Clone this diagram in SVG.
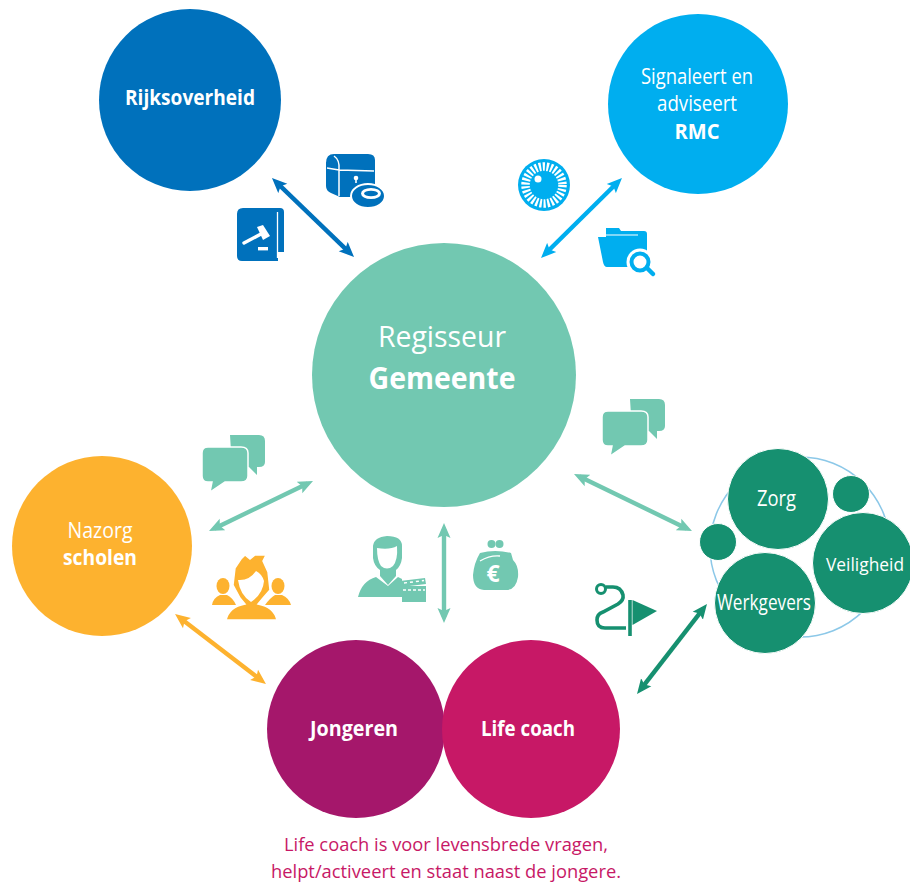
<svg xmlns="http://www.w3.org/2000/svg" xmlns:xlink="http://www.w3.org/1999/xlink" width="910" height="885" viewBox="0 0 910 885">
<style>
text{font-family:"Open Sans","Noto Sans","Liberation Sans",sans-serif;fill:#fff;text-anchor:middle;font-size:21px}
.b{font-weight:700}
.conn{fill:none;stroke-width:4.4}
</style>
<defs>
<marker id="mb" markerUnits="userSpaceOnUse" markerWidth="16" markerHeight="14" refX="9" refY="7" orient="auto-start-reverse"><path d="M0 .5L15 7L0 13.5L3 7Z" fill="#0071BC"/></marker>
<marker id="ml" markerUnits="userSpaceOnUse" markerWidth="16" markerHeight="14" refX="9" refY="7" orient="auto-start-reverse"><path d="M0 .5L15 7L0 13.5L3 7Z" fill="#00AEEF"/></marker>
<marker id="mm" markerUnits="userSpaceOnUse" markerWidth="16" markerHeight="14" refX="9" refY="7" orient="auto-start-reverse"><path d="M0 .5L15 7L0 13.5L3 7Z" fill="#72C8B1"/></marker>
<marker id="my" markerUnits="userSpaceOnUse" markerWidth="16" markerHeight="14" refX="9" refY="7" orient="auto-start-reverse"><path d="M0 .5L15 7L0 13.5L3 7Z" fill="#FDB22F"/></marker>
<marker id="mg" markerUnits="userSpaceOnUse" markerWidth="16" markerHeight="14" refX="9" refY="7" orient="auto-start-reverse"><path d="M0 .5L15 7L0 13.5L3 7Z" fill="#169070"/></marker>
<g id="bubbles">
<path d="M28 0H57Q63 0 63 6V27Q63 32 57 32H55V40L47 32H30Z" fill="#72C8B1"/>
<path d="M6 12H39Q46 12 46 18V41Q46 47 39 47H23L8 57L10 47H6Q0 47 0 41V18Q0 12 6 12Z" fill="#72C8B1" stroke="#fff" stroke-width="1.5"/>
</g>
</defs>

<g id="connectors">
<path class="conn" stroke="#0071BC" marker-start="url(#mb)" marker-end="url(#mb)" d="M276.300 182.200L349.700 252.800"/>
<path class="conn" stroke="#00AEEF" marker-start="url(#ml)" marker-end="url(#ml)" d="M617.700 182.200L545.300 253.800"/>
<path class="conn" stroke="#72C8B1" marker-start="url(#mm)" marker-end="url(#mm)" d="M307.600 483.600L214.400 528.400"/>
<path class="conn" stroke="#72C8B1" marker-start="url(#mm)" marker-end="url(#mm)" d="M444 529V617"/>
<path class="conn" stroke="#72C8B1" marker-start="url(#mm)" marker-end="url(#mm)" d="M579.400 476.600L686.600 528.400"/>
<path class="conn" stroke="#169070" marker-start="url(#mg)" marker-end="url(#mg)" d="M703.300 608.700L640.700 689.300"/>
<path class="conn" stroke="#FDB22F" marker-start="url(#my)" marker-end="url(#my)" d="M179.800 617.700L261.200 680.300"/>
</g>

<g id="rijksoverheid"><circle cx="190" cy="100" r="91" fill="#0071BC"/><text class="b" x="190" y="105" textLength="130" lengthAdjust="spacingAndGlyphs">Rijksoverheid</text></g>
<g id="rmc"><circle cx="698" cy="104" r="90" fill="#00AEEF"/><text x="697" y="84" textLength="112" lengthAdjust="spacingAndGlyphs">Signaleert en</text><text x="697" y="111" textLength="80" lengthAdjust="spacingAndGlyphs">adviseert</text><text class="b" x="697" y="139" textLength="45" lengthAdjust="spacingAndGlyphs">RMC</text></g>
<g id="gemeente"><circle cx="444" cy="375" r="132" fill="#72C8B1"/><text x="442" y="347" style="font-size:30px" textLength="128" lengthAdjust="spacingAndGlyphs">Regisseur</text><text class="b" x="442" y="389" style="font-size:30px" textLength="147" lengthAdjust="spacingAndGlyphs">Gemeente</text></g>
<g id="nazorg"><circle cx="102" cy="546" r="90" fill="#FDB22F"/><text x="100" y="538" textLength="65" lengthAdjust="spacingAndGlyphs">Nazorg</text><text class="b" x="100" y="565" textLength="74" lengthAdjust="spacingAndGlyphs">scholen</text></g>
<g id="jongeren"><circle cx="356" cy="729" r="89" fill="#A5176B"/><text class="b" x="354" y="736" textLength="88" lengthAdjust="spacingAndGlyphs">Jongeren</text></g>
<g id="lifecoach"><circle cx="531" cy="729" r="89" fill="#C71866"/><text class="b" x="528" y="736" textLength="94" lengthAdjust="spacingAndGlyphs">Life coach</text></g>
<g id="netwerk">
<circle cx="800" cy="547" r="90" fill="none" stroke="#8CC8E8" stroke-width="1.5"/>
<circle cx="778" cy="499" r="50.5" fill="#169070" stroke="#fff"/>
<circle cx="851" cy="494" r="18.5" fill="#169070" stroke="#fff"/>
<circle cx="863" cy="563" r="50.5" fill="#169070" stroke="#fff"/>
<circle cx="718" cy="542" r="18.5" fill="#169070" stroke="#fff"/>
<circle cx="765" cy="603" r="50.5" fill="#169070" stroke="#fff"/>
<text x="776.500" y="506" textLength="39" lengthAdjust="spacingAndGlyphs">Zorg</text><text x="865" y="571" style="font-size:19px" textLength="78" lengthAdjust="spacingAndGlyphs">Veiligheid</text><text x="764" y="610" textLength="94" lengthAdjust="spacingAndGlyphs">Werkgevers</text>
</g>
<g id="bijschrift"><text x="446" y="851" style="fill:#C71866;font-size:19px" textLength="324" lengthAdjust="spacingAndGlyphs">Life coach is voor levensbrede vragen,</text><text x="446" y="878" style="fill:#C71866;font-size:19px" textLength="350" lengthAdjust="spacingAndGlyphs">helpt/activeert en staat naast de jongere.</text></g>

<g id="icon-boek">
<path d="M243 208H280Q284 208 284 212V252H278V261H242Q237 261 237 256V214Q237 208 243 208Z" fill="#0071BC"/>
<path d="M277.500 212V258" stroke="#fff" stroke-width="1.3"/>
<path d="M244 243L261 234" stroke="#fff" stroke-width="3.4" stroke-linecap="round"/>
<path d="M257 227L263 225L270 236L263 240Z" fill="#fff"/>
<rect x="258" y="247" width="10" height="3.400" fill="#fff"/>
</g>
<g id="icon-kist">
<path d="M334 154H368Q375 154 375 160V186H360L352 197H340L331 193Q326 191 326 186V163Q326 154 334 154Z" fill="#0071BC"/>
<path d="M334 156Q340 160 339 170V196M327 168L339 170L374 171" fill="none" stroke="#fff" stroke-width="1.500"/>
<circle cx="356" cy="178" r="2.300" fill="#fff"/>
<path d="M355.200 178H356.800V183H355.200Z" fill="#fff"/>
<ellipse cx="368" cy="196" rx="17" ry="12" fill="#0071BC" stroke="#fff" stroke-width="2"/>
<ellipse cx="371" cy="193.500" rx="10" ry="5.500" fill="#fff"/>
<ellipse cx="371" cy="193.500" rx="7" ry="2.800" fill="#0071BC"/>
</g>
<g id="icon-oog">
<circle cx="544" cy="185" r="26" fill="#00AEEF"/>
<circle cx="544" cy="185" r="18.500" fill="none" stroke="#fff" stroke-width="8.500" stroke-dasharray="2.200 1.680"/>
<circle cx="544" cy="185" r="11" fill="#00AEEF"/>
<circle cx="538" cy="179" r="3.500" fill="#fff"/>
</g>
<g id="icon-map">
<path d="M606 228H619L621 231H644Q647 231 647 234V258H606Z" fill="#00AEEF"/>
<path d="M604 235H638" stroke="#fff" stroke-width="1.200"/>
<path d="M598 237H640L646 240V258Q634 258 628 267H607Q604 267 603 262Z" fill="#00AEEF"/>
<circle cx="640" cy="262" r="13.500" fill="#fff"/>
<circle cx="640" cy="262" r="8.500" fill="#fff" stroke="#00AEEF" stroke-width="4"/>
<path d="M647 268L653 274" stroke="#00AEEF" stroke-width="4.500" stroke-linecap="round"/>
</g>
<use id="icon-bubbels-links" xlink:href="#bubbles" href="#bubbles" x="202" y="435"/>
<use id="icon-bubbels-rechts" xlink:href="#bubbles" href="#bubbles" x="602" y="399"/>
<g id="icon-personen" fill="#FDB22F">
<ellipse cx="223" cy="586" rx="6.500" ry="8"/><path d="M212 605Q213 598 220 595H227Q233 598 236 605Z"/>
<ellipse cx="278" cy="586" rx="6.500" ry="8"/><path d="M265 605Q270 598 275 595H282Q289 598 291 605Z"/>
<path d="M233 585L235 568L241 559L245 555L250 559L255 555L266 555L263 561L268 572L270 590L263 598L258 604Q274 607 277 620H226Q229 607 245 604L240 598Z" stroke="#fff" stroke-width="1.500"/>
<path d="M238 580Q249 581 256 571Q262 574 264 581Q263 594 251 602Q240 595 238 580Z" fill="#fff"/>
</g>
<g id="icon-regisseur" fill="#72C8B1">
<path d="M373 558V546Q374 537 387 536Q402 536 402 546V558Q401 566 396 570V576L388 585L380 576V570Q374 566 373 558Z"/>
<path d="M377 548Q390 550 397 546Q398 560 393 566Q387 571 381 566Q377 560 377 548Z" fill="#fff"/>
<path d="M358 597Q362 581 376 577L388 586L398 577L402 579V597Z"/>
<rect x="402" y="586" width="24" height="16"/>
<path d="M400 581L425 578L426 584L401 587Z"/>
<path d="M403 590H425" stroke="#fff" stroke-width="1.500" stroke-dasharray="3 2"/>
<path d="M404 583L424 580.500" stroke="#fff" stroke-width="1.500" stroke-dasharray="3 3"/>
</g>
<g id="icon-beurs" fill="#72C8B1">
<circle cx="491.500" cy="544" r="4"/>
<circle cx="499.500" cy="544" r="4"/>
<path d="M480 553Q495 549 511 553L513 560Q519 566 518 577Q516 590 506 590H484Q473 589 473 575Q474 563 480 553Z"/>
<path d="M480 561Q490 555 500 556" fill="none" stroke="#fff" stroke-width="1.300"/>
<text x="493" y="582" class="b" style="font-size:23px">€</text>
</g>
<g id="icon-pad">
<path d="M626 628H605Q597 628 597 620Q597 614 603 612L618 604Q624 600 623 595Q621 587 613 587H606" fill="none" stroke="#169070" stroke-width="3.600"/>
<circle cx="601" cy="589" r="4.500" fill="#fff" stroke="#169070" stroke-width="3"/>
<path d="M630 600V636" stroke="#169070" stroke-width="3.600"/>
<path d="M632.500 600L657 611L632.500 625Z" fill="#169070"/>
</g>
</svg>
